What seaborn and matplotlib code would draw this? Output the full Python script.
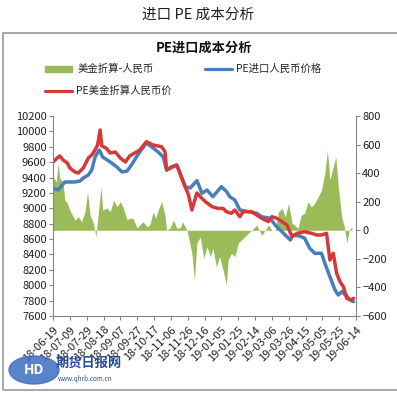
import pandas as pd
import numpy as np
import matplotlib.pyplot as plt
import matplotlib.dates as mdates
from matplotlib.patches import Rectangle, Ellipse
import seaborn as sns

# PE进口人民币价格 (left axis)
blue_dates = ["2018-06-19", "2018-06-25", "2018-07-03", "2018-07-15", "2018-07-21", "2018-07-25",
              "2018-07-31", "2018-08-04", "2018-08-08", "2018-08-13", "2018-08-17", "2018-08-26",
              "2018-09-03", "2018-09-09", "2018-09-15", "2018-09-21", "2018-09-28", "2018-10-08",
              "2018-10-16", "2018-10-22", "2018-10-28", "2018-11-01", "2018-11-07", "2018-11-13",
              "2018-11-17", "2018-11-23", "2018-11-29", "2018-12-07", "2018-12-13", "2018-12-19",
              "2018-12-26", "2019-01-05", "2019-01-11", "2019-01-15", "2019-01-21", "2019-01-27",
              "2019-02-06", "2019-02-16", "2019-02-22", "2019-03-04", "2019-03-10", "2019-03-16",
              "2019-03-22", "2019-03-28", "2019-03-31", "2019-04-08", "2019-04-14", "2019-04-20",
              "2019-04-26", "2019-05-04", "2019-05-08", "2019-05-14", "2019-05-20", "2019-05-24",
              "2019-05-28", "2019-06-03", "2019-06-07", "2019-06-11"]
blue_vals = [9264, 9238, 9342, 9342, 9355, 9394, 9433, 9498, 9667, 9758, 9667, 9602,
             9537, 9472, 9485, 9576, 9700, 9849, 9784, 9732, 9667, 9498, 9541, 9563,
             9459, 9281, 9264, 9360, 9195, 9238, 9151, 9281, 9220, 9151, 9108, 8978,
             8956, 8935, 8891, 8870, 8783, 8718, 8653, 8588, 8653, 8640, 8610, 8480,
             8415, 8415, 8285, 8111, 7938, 7873, 7916, 7860, 7808, 7786]

# PE美金折算人民币价 (left axis)
red_dates = ["2018-06-19", "2018-06-24", "2018-06-27", "2018-07-01", "2018-07-06", "2018-07-09",
             "2018-07-15", "2018-07-19", "2018-07-25", "2018-07-31", "2018-08-04", "2018-08-08",
             "2018-08-11", "2018-08-14", "2018-08-16", "2018-08-21", "2018-08-26", "2018-09-01",
             "2018-09-07", "2018-09-13", "2018-09-18", "2018-09-24", "2018-09-30", "2018-10-08",
             "2018-10-16", "2018-10-26", "2018-10-30", "2018-11-01", "2018-11-13", "2018-11-19",
             "2018-11-27", "2018-12-01", "2018-12-07", "2018-12-11", "2018-12-17", "2018-12-25",
             "2019-01-01", "2019-01-07", "2019-01-11", "2019-01-17", "2019-01-21", "2019-01-27",
             "2019-01-31", "2019-02-10", "2019-02-16", "2019-02-22", "2019-03-02", "2019-03-06",
             "2019-03-12", "2019-03-18", "2019-03-24", "2019-03-30", "2019-04-05", "2019-04-14",
             "2019-04-22", "2019-04-28", "2019-05-04", "2019-05-10", "2019-05-14", "2019-05-18",
             "2019-05-22", "2019-05-26", "2019-05-30", "2019-06-03", "2019-06-09", "2019-06-11"]
red_vals = [9602, 9654, 9680, 9628, 9589, 9524, 9472, 9459, 9524, 9654, 9693, 9758,
            9823, 10018, 9810, 9784, 9719, 9732, 9654, 9602, 9680, 9719, 9758, 9866,
            9823, 9801, 9736, 9498, 9563, 9390, 9173, 8978, 9200, 9151, 9086, 9021,
            8999, 8999, 8956, 8935, 8978, 8891, 8956, 8956, 8913, 8870, 8827, 8891,
            8870, 8827, 8783, 8631, 8675, 8696, 8675, 8653, 8653, 8675, 8328, 8415,
            8155, 8046, 7981, 7830, 7808, 7830]

# 美金折算-人民币 (right axis)
green_dates = ["2018-06-19", "2018-06-23", "2018-06-25", "2018-06-27", "2018-07-01", "2018-07-03",
               "2018-07-06", "2018-07-09", "2018-07-12", "2018-07-15", "2018-07-19", "2018-07-23",
               "2018-07-27", "2018-07-30", "2018-08-02", "2018-08-06", "2018-08-09", "2018-08-11",
               "2018-08-15", "2018-08-17", "2018-08-22", "2018-08-26", "2018-08-30", "2018-09-03",
               "2018-09-07", "2018-09-10", "2018-09-15", "2018-09-18", "2018-09-22", "2018-09-27",
               "2018-09-30", "2018-10-04", "2018-10-09", "2018-10-12", "2018-10-16", "2018-10-19",
               "2018-10-22", "2018-10-26", "2018-10-30", "2018-11-01", "2018-11-05", "2018-11-09",
               "2018-11-13", "2018-11-17", "2018-11-20", "2018-11-25", "2018-11-26", "2018-12-01",
               "2018-12-04", "2018-12-07", "2018-12-11", "2018-12-15", "2018-12-19", "2018-12-23",
               "2018-12-26", "2018-12-30", "2019-01-03", "2019-01-07", "2019-01-11", "2019-01-13",
               "2019-01-17", "2019-01-21", "2019-01-25", "2019-01-31", "2019-02-06", "2019-02-10",
               "2019-02-16", "2019-02-19", "2019-02-22", "2019-02-26", "2019-03-02", "2019-03-06",
               "2019-03-10", "2019-03-14", "2019-03-18", "2019-03-22", "2019-03-26", "2019-03-30",
               "2019-04-02", "2019-04-06", "2019-04-10", "2019-04-14", "2019-04-18", "2019-04-22",
               "2019-04-26", "2019-04-30", "2019-05-04", "2019-05-08", "2019-05-11", "2019-05-14",
               "2019-05-18", "2019-05-21", "2019-05-24", "2019-05-28", "2019-05-31", "2019-06-03",
               "2019-06-06", "2019-06-09"]
green_vals = [375, 340, 469, 366, 331, 212, 191, 142, 107, 72, 95, 60,
              130, 270, 107, 49, -45, 72, 305, 142, 156, 130, 212, 165,
              200, 165, 72, 84, 84, 16, 37, 60, 25, 37, 130, 84,
              142, 200, 107, 0, 16, 72, 16, 16, 60, 0, -20, -160,
              -350, -90, -45, -196, -115, -185, -126, -255, -185, -278, -383, -208,
              -161, -185, -91, -56, -21, 0, 37, 0, -35, 0, 37, 0,
              0, 130, 154, 95, 189, 49, 37, 14, 107, 119, 200, 165,
              189, 235, 282, 399, 562, 352, 445, 515, 305, 95, 25, -91,
              0, 25]

tick_dates = pd.date_range("2018-06-19", periods=19, freq="20D")

blue_df = pd.DataFrame({"date": pd.to_datetime(blue_dates), "price": blue_vals})
red_df = pd.DataFrame({"date": pd.to_datetime(red_dates), "price": red_vals})
green_df = pd.DataFrame({"date": pd.to_datetime(green_dates), "diff": green_vals})

sns.set_theme(style="white")
plt.rcParams['font.family'] = ['Noto Sans CJK SC', 'DejaVu Sans']

GREEN = "#9BBB59"
BLUE = "#4A7EBB"
RED = "#D5393A"
GRAY = "#868686"

fig = plt.figure(figsize=(3.97, 3.93), dpi=100)
fig.patches.append(Rectangle((3 / 397, 3 / 393), 1.0, 1 - 36 / 393, transform=fig.transFigure,
                             fill=False, edgecolor="#9a9a9a", linewidth=1.2))
fig.text(0.5, 1 - 15 / 393, "进口 PE 成本分析", ha="center", va="center", fontsize=10.5, color="#222222")
fig.text(0.515, 1 - 48 / 393, "PE进口成本分析", ha="center", va="center", fontsize=9.5,
         fontweight="bold", color="#111111")

ax = fig.add_axes([53 / 397, 1 - 316 / 393, 303 / 397, 200 / 393])
ax2 = ax.twinx()

ax2.fill_between(green_df["date"], green_df["diff"], 0, color=GREEN, linewidth=0)
sns.lineplot(data=blue_df, x="date", y="price", ax=ax, color=BLUE, linewidth=2.5)
sns.lineplot(data=red_df, x="date", y="price", ax=ax, color=RED, linewidth=2.5)

ax.set_zorder(ax2.get_zorder() + 1)
ax.patch.set_visible(False)

ax.set_xlim(tick_dates[0], tick_dates[-1])
ax.set_ylim(7600, 10200)
ax.set_yticks(range(7600, 10201, 200))
ax2.set_ylim(-600, 800)
ax2.set_yticks(range(-600, 801, 200))
ax.set_xticks(tick_dates)
ax.xaxis.set_major_formatter(mdates.DateFormatter("%y-%m-%d"))
for lbl in ax.get_xticklabels():
    lbl.set_rotation(45)
    lbl.set_ha("right")
    lbl.set_rotation_mode("anchor")
ax.set_xlabel("")
ax.set_ylabel("")
ax2.set_ylabel("")

for a in (ax, ax2):
    for s in a.spines.values():
        s.set_color(GRAY)
        s.set_linewidth(0.8)
    a.spines["top"].set_visible(False)
ax.spines["right"].set_visible(False)
ax2.spines["left"].set_visible(False)
ax2.spines["bottom"].set_visible(False)
ax.tick_params(axis="y", left=True, length=3, width=0.8, color=GRAY, labelsize=8, pad=1.5, colors="#222222")
ax.tick_params(axis="x", bottom=True, length=3, width=0.8, color=GRAY, labelsize=8, pad=3, colors="#222222")
ax2.tick_params(axis="y", right=True, length=3, width=0.8, color=GRAY, labelsize=8, pad=1.5, colors="#222222")

# legend
fig.patches.append(Rectangle((45 / 397, 1 - 72 / 393), 27 / 397, 6 / 393, transform=fig.transFigure,
                             color=GREEN))
fig.text(78 / 397, 1 - 69 / 393, "美金折算-人民币", va="center", fontsize=7.5)
fig.lines.append(plt.Line2D([205 / 397, 232 / 397], [1 - 69 / 393] * 2, transform=fig.transFigure,
                            color=BLUE, linewidth=2.3))
fig.text(236 / 397, 1 - 69 / 393, "PE进口人民币价格", va="center", fontsize=7.5)
fig.lines.append(plt.Line2D([45 / 397, 72 / 397], [1 - 91 / 393] * 2, transform=fig.transFigure,
                            color=RED, linewidth=2.3))
fig.text(76 / 397, 1 - 91 / 393, "PE美金折算人民币价", va="center", fontsize=7.5)

# watermark
fig.patches.append(Ellipse((34 / 397, 1 - 370 / 393), 50 / 397, 28 / 393, transform=fig.transFigure,
                           color="#3d6fc0", alpha=0.85, zorder=5))
fig.text(34 / 397, 1 - 370 / 393, "HD", ha="center", va="center", fontsize=10, fontweight="bold",
         color="white", zorder=6)
fig.text(56 / 397, 1 - 363 / 393, "期货日报网", va="center", fontsize=9.5, fontweight="bold",
         color="#2a4f9a", zorder=6)
fig.text(58 / 397, 1 - 379 / 393, "www.qhrb.com.cn", va="center", fontsize=4.5,
         color="#2a4f9a", zorder=6)

fig.savefig("out.png", dpi=100)
